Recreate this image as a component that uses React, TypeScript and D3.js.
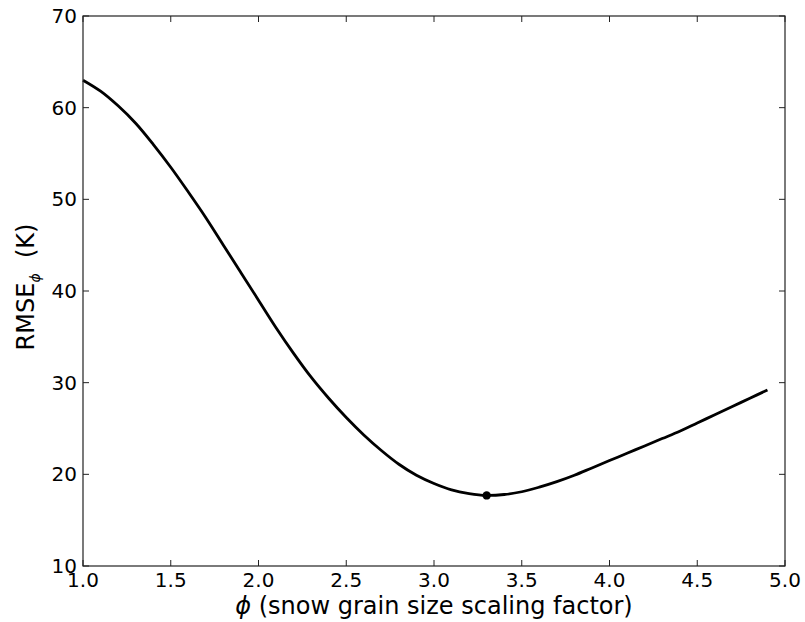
import React from "react";
import * as d3 from "d3";

const phiValues = [1.0,1.1,1.2,1.3,1.4,1.5,1.6,1.7,1.8,1.9,2.0,2.1,2.2,2.3,2.4,2.5,2.6,2.7,2.8,2.9,3.0,3.1,3.2,3.3,3.4,3.5,3.6,3.7,3.8,3.9,4.0,4.1,4.2,4.3,4.4,4.5,4.6,4.7,4.8,4.9];
const rmseValues = [63.0,61.8,60.2,58.3,56.0,53.5,50.8,48.0,45.0,42.0,39.0,36.0,33.2,30.6,28.3,26.2,24.3,22.6,21.1,19.9,19.0,18.3,17.9,17.7,17.8,18.1,18.6,19.2,19.9,20.7,21.5,22.3,23.1,23.9,24.7,25.6,26.5,27.4,28.3,29.2];
const optimum = { phi: 3.3, rmse: 17.7 };
const xTicks = [1.0,1.5,2.0,2.5,3.0,3.5,4.0,4.5,5.0];
const yTicks = [10,20,30,40,50,60,70];

const W = 805, H = 622;
const L = 83, R = 785, T = 16, B = 566;
const FONT = "DejaVu Sans, sans-serif";

export default function App() {
  const x = d3.scaleLinear().domain([1, 5]).range([L, R]);
  const y = d3.scaleLinear().domain([10, 70]).range([B, T]);
  const pts = phiValues.map((p, i) => [p, rmseValues[i]] as [number, number]);
  const line = d3.line<[number, number]>().x(d => x(d[0])).y(d => y(d[1])).curve(d3.curveCatmullRom);
  const tl = 6;
  return (
    <svg width={W} height={H} style={{ position: "absolute", left: 0, top: 0, background: "#fff" }}>
      <path d={line(pts) || ""} fill="none" stroke="#000" strokeWidth={2.8} />
      <circle cx={x(optimum.phi)} cy={y(optimum.rmse)} r={4.2} fill="#000" />
      <rect x={L} y={T} width={R - L} height={B - T} fill="none" stroke="#222" strokeWidth={1.2} />
      {xTicks.map(t => (
        <g key={"x" + t}>
          <line x1={x(t)} x2={x(t)} y1={B} y2={B - tl} stroke="#222" strokeWidth={1} />
          <line x1={x(t)} x2={x(t)} y1={T} y2={T + tl} stroke="#222" strokeWidth={1} />
          <text x={x(t)} y={587} textAnchor="middle" fontFamily={FONT} fontSize={20} fill="#000">{t.toFixed(1)}</text>
        </g>
      ))}
      {yTicks.map(t => (
        <g key={"y" + t}>
          <line x1={L} x2={L + tl} y1={y(t)} y2={y(t)} stroke="#222" strokeWidth={1} />
          <line x1={R} x2={R - tl} y1={y(t)} y2={y(t)} stroke="#222" strokeWidth={1} />
          <text x={77} y={y(t) + 7} textAnchor="end" fontFamily={FONT} fontSize={20} fill="#000">{t}</text>
        </g>
      ))}
      <text x={434} y={614} textAnchor="middle" fontFamily={FONT} fontSize={24} fill="#000">
        <tspan fontStyle="italic">ϕ</tspan> (snow grain size scaling factor)
      </text>
      <text transform={`translate(34,287) rotate(-90)`} textAnchor="middle" fontFamily={FONT} fontSize={24} fill="#000" style={{ whiteSpace: "pre" }}>
        RMSE<tspan fontSize={14} dy={6} fontStyle="italic">ϕ</tspan><tspan dy={-6}>{"  (K)"}</tspan>
      </text>
    </svg>
  );
}
